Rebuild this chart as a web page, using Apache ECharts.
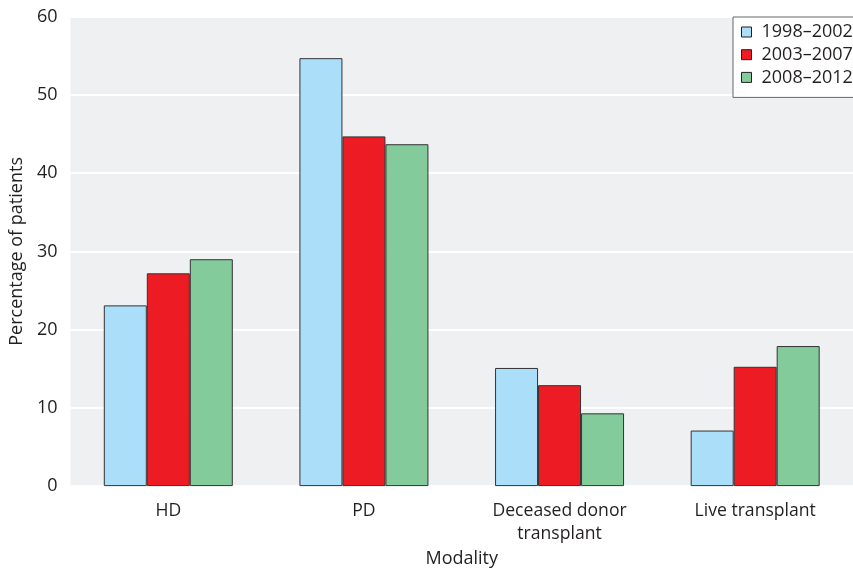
<!DOCTYPE html>
<html>
<head>
<meta charset="utf-8">
<script src="https://cdn.jsdelivr.net/npm/echarts@6/dist/echarts.min.js"></script>
<style>
html,body{margin:0;padding:0;background:#fff;}
#chart{width:853px;height:573px;}
</style>
</head>
<body>
<div id="chart"></div>
<script>
const categories = ['HD', 'PD', 'Deceased donor\ntransplant', 'Live transplant'];
const seriesNames = ['1998–2002', '2003–2007', '2008–2012'];
const s1998 = [23.1, 54.7, 15.1, 7.1];
const s2003 = [27.2, 44.7, 12.9, 15.25];
const s2008 = [29.0, 43.7, 9.3, 17.9];
const yTicks = [0, 10, 20, 30, 40, 50, 60];

const colors = ['#abdff9', '#ed1c24', '#83cb9b'];
const FONT = 'Open Sans';
const chart = echarts.init(document.getElementById('chart'), null, {renderer: 'canvas'});
const values = [s1998, s2003, s2008];
chart.setOption({
  animation: false,
  textStyle: {fontFamily: FONT, color: '#231f20'},
  grid: {left: 61, top: 16.7, width: 800, height: 480, show: true, backgroundColor: '#eff0f2', borderWidth: 0, containLabel: false},
  legend: {
    left: 733, top: 17, orient: 'vertical',
    data: seriesNames,
    backgroundColor: '#ffffff', borderColor: '#666', borderWidth: 1,
    padding: [6, 4, 11, 8], itemGap: 4.7, itemWidth: 10, itemHeight: 10,
    icon: 'rect',
    itemStyle: {borderColor: '#231f20', borderWidth: 1},
    textStyle: {fontFamily: FONT, fontSize: 18, color: '#231f20', padding: [0, 0, 0, 5]}
  },
  xAxis: {
    type: 'category', data: categories,
    name: 'Modality', nameLocation: 'middle', nameGap: 57,
    nameTextStyle: {fontFamily: FONT, fontSize: 18, color: '#231f20'},
    axisLine: {show: false}, axisTick: {show: false},
    axisLabel: {fontFamily: FONT, fontSize: 17.6, color: '#231f20', margin: 13, lineHeight: 23, interval: 0}
  },
  yAxis: {
    type: 'value', min: yTicks[0], max: yTicks[yTicks.length - 1], interval: 10,
    name: 'Percentage of patients', nameLocation: 'middle', nameGap: 38, nameRotate: 90,
    nameTextStyle: {fontFamily: FONT, fontSize: 18, color: '#231f20'},
    axisLine: {show: false}, axisTick: {show: false},
    splitLine: {lineStyle: {color: '#ffffff', width: 2}},
    axisLabel: {fontFamily: FONT, fontSize: 18, color: '#231f20', margin: 13}
  },
  series: seriesNames.map((n, i) => ({
    name: n, type: 'bar', data: values[i], barWidth: 43, barGap: '0%',
    itemStyle: {color: colors[i], borderColor: '#333', borderWidth: 1}
  }))
});
</script>
</body>
</html>
